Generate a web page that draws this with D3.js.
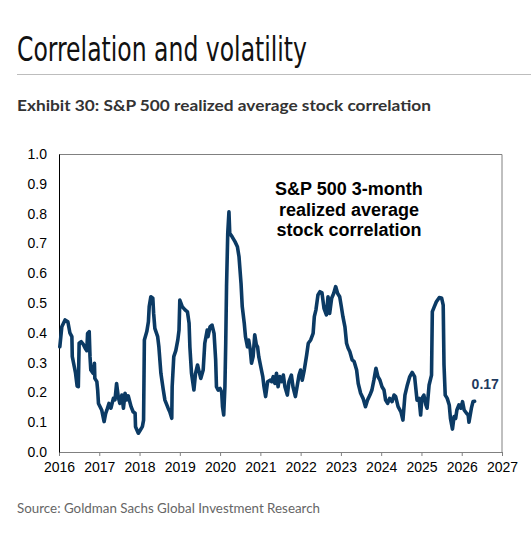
<!DOCTYPE html>
<html>
<head>
<meta charset="utf-8">
<script src="https://cdn.jsdelivr.net/npm/d3@7"></script>
<style>
  body { margin: 0; background: #fff; }
  svg { display: block; }
</style>
</head>
<body>
<div id="chart"></div>
<script>
// decimal year of each observation
const years = [
  2016.02, 2016.07, 2016.15, 2016.22, 2016.27, 2016.32, 2016.33, 2016.38, 2016.41, 2016.45,
  2016.48, 2016.50, 2016.55, 2016.60, 2016.65, 2016.69, 2016.71, 2016.75, 2016.77, 2016.79,
  2016.85, 2016.88, 2016.89, 2016.94, 2016.96, 2016.98, 2017.06, 2017.12, 2017.16, 2017.19,
  2017.24, 2017.29, 2017.35, 2017.39, 2017.43, 2017.47, 2017.51, 2017.56, 2017.60, 2017.64,
  2017.68, 2017.72, 2017.79, 2017.84, 2017.89, 2017.90, 2017.97, 2018.02, 2018.07, 2018.10,
  2018.12, 2018.18, 2018.22, 2018.24, 2018.28, 2018.33, 2018.35, 2018.38, 2018.45, 2018.48,
  2018.53, 2018.59, 2018.63, 2018.71, 2018.75, 2018.80, 2018.81, 2018.85, 2018.90, 2018.95,
  2018.98, 2019.00, 2019.06, 2019.13, 2019.19, 2019.23, 2019.25, 2019.29, 2019.35, 2019.39,
  2019.44, 2019.47, 2019.52, 2019.58, 2019.62, 2019.68, 2019.70, 2019.75, 2019.80, 2019.85,
  2019.89, 2019.91, 2019.95, 2020.00, 2020.04, 2020.06, 2020.09, 2020.12, 2020.14, 2020.16,
  2020.19, 2020.22, 2020.24, 2020.30, 2020.37, 2020.43, 2020.47, 2020.52, 2020.55, 2020.60,
  2020.63, 2020.68, 2020.71, 2020.75, 2020.78, 2020.82, 2020.86, 2020.90, 2020.93, 2020.96,
  2021.01, 2021.06, 2021.09, 2021.13, 2021.18, 2021.24, 2021.28, 2021.32, 2021.36, 2021.40,
  2021.44, 2021.48, 2021.53, 2021.57, 2021.61, 2021.67, 2021.71, 2021.77, 2021.81, 2021.87,
  2021.96, 2022.00, 2022.04, 2022.09, 2022.15, 2022.19, 2022.25, 2022.31, 2022.34, 2022.38,
  2022.43, 2022.48, 2022.53, 2022.58, 2022.64, 2022.68, 2022.72, 2022.77, 2022.82, 2022.87,
  2022.92, 2022.97, 2023.01, 2023.05, 2023.10, 2023.14, 2023.18, 2023.22, 2023.28, 2023.33,
  2023.39, 2023.43, 2023.49, 2023.55, 2023.61, 2023.66, 2023.72, 2023.77, 2023.82, 2023.87,
  2023.92, 2023.97, 2024.02, 2024.07, 2024.11, 2024.16, 2024.21, 2024.27, 2024.32, 2024.36,
  2024.42, 2024.49, 2024.54, 2024.59, 2024.65, 2024.71, 2024.77, 2024.83, 2024.89, 2024.94,
  2024.98, 2025.01, 2025.06, 2025.11, 2025.14, 2025.19, 2025.25, 2025.27, 2025.32, 2025.37,
  2025.44, 2025.50, 2025.54, 2025.56, 2025.59, 2025.64, 2025.69, 2025.72, 2025.77, 2025.81,
  2025.85, 2025.88, 2025.93, 2025.98, 2026.02, 2026.06, 2026.12, 2026.16, 2026.18, 2026.24,
  2026.28, 2026.32
];

// 3-month realized average stock correlation
const corr = [
  0.353, 0.420, 0.443, 0.437, 0.400, 0.387, 0.320, 0.286, 0.265, 0.221,
  0.219, 0.365, 0.370, 0.362, 0.348, 0.340, 0.398, 0.404, 0.320, 0.275,
  0.264, 0.298, 0.247, 0.236, 0.208, 0.163, 0.141, 0.102, 0.130, 0.141,
  0.163, 0.147, 0.180, 0.175, 0.230, 0.186, 0.163, 0.191, 0.147, 0.197,
  0.175, 0.188, 0.152, 0.135, 0.130, 0.085, 0.063, 0.074, 0.085, 0.107,
  0.376, 0.404, 0.437, 0.488, 0.521, 0.516, 0.465, 0.415, 0.387, 0.353,
  0.264, 0.208, 0.174, 0.147, 0.135, 0.113, 0.219, 0.320, 0.340, 0.376,
  0.409, 0.510, 0.488, 0.477, 0.470, 0.432, 0.353, 0.264, 0.208, 0.264,
  0.292, 0.275, 0.247, 0.275, 0.365, 0.409, 0.387, 0.420, 0.426, 0.398,
  0.309, 0.219, 0.208, 0.213, 0.200, 0.152, 0.124, 0.219, 0.365, 0.555,
  0.734, 0.806, 0.734, 0.722, 0.706, 0.689, 0.655, 0.566, 0.488, 0.432,
  0.387, 0.353, 0.376, 0.342, 0.298, 0.320, 0.393, 0.360, 0.353, 0.320,
  0.286, 0.253, 0.219, 0.186, 0.236, 0.241, 0.236, 0.253, 0.230, 0.264,
  0.219, 0.253, 0.236, 0.258, 0.219, 0.191, 0.236, 0.258, 0.219, 0.186,
  0.258, 0.275, 0.241, 0.275, 0.326, 0.365, 0.376, 0.398, 0.454, 0.477,
  0.527, 0.538, 0.534, 0.482, 0.460, 0.521, 0.465, 0.516, 0.532, 0.555,
  0.532, 0.521, 0.488, 0.454, 0.420, 0.365, 0.348, 0.337, 0.309, 0.303,
  0.275, 0.230, 0.197, 0.180, 0.152, 0.174, 0.191, 0.208, 0.242, 0.281,
  0.253, 0.241, 0.219, 0.208, 0.174, 0.163, 0.180, 0.169, 0.191, 0.186,
  0.152, 0.135, 0.107, 0.191, 0.225, 0.253, 0.267, 0.253, 0.174, 0.180,
  0.124, 0.180, 0.191, 0.158, 0.147, 0.225, 0.258, 0.471, 0.488, 0.504,
  0.518, 0.517, 0.493, 0.292, 0.191, 0.180, 0.158, 0.113, 0.077, 0.119,
  0.113, 0.141, 0.158, 0.147, 0.169, 0.141, 0.130, 0.124, 0.100, 0.147,
  0.169, 0.170
];

const xTicks = d3.range(2016, 2028);
const yTicks = d3.range(0, 11).map(d => d / 10);

const pageTitle = "Correlation and volatility";
const exhibitTitle = "Exhibit 30: S&P 500 realized average stock correlation";
const annotation = ["S&P 500 3-month", "realized average", "stock correlation"];
const lastLabel = "0.17";
const source = "Source: Goldman Sachs Global Investment Research";

const width = 531;
const height = 535;
const margin = {top: 154, right: 29, bottom: 83, left: 59};
const innerWidth = width - margin.left - margin.right;
const innerHeight = height - margin.top - margin.bottom;
const navy = "#0b3a64";
const axisFont = "'Liberation Sans', Arial, sans-serif";

const svg = d3.select("#chart")
  .append("svg")
  .attr("width", width)
  .attr("height", height);

// header
svg.append("text")
  .attr("x", 17)
  .attr("y", 61)
  .attr("font-family", "'Liberation Sans Narrow', 'DejaVu Sans Condensed', sans-serif")
  .attr("font-size", 33)
  .attr("fill", "#111")
  .attr("textLength", 290)
  .attr("lengthAdjust", "spacingAndGlyphs")
  .text(pageTitle);

svg.append("line")
  .attr("x1", 17).attr("x2", width)
  .attr("y1", 74.5).attr("y2", 74.5)
  .attr("stroke", "#bdbdbd");

svg.append("text")
  .attr("x", 17)
  .attr("y", 111)
  .attr("font-family", "Lato, 'Noto Sans', sans-serif")
  .attr("font-weight", "bold")
  .attr("font-size", 16)
  .attr("fill", "#333")
  .attr("textLength", 414)
  .attr("lengthAdjust", "spacingAndGlyphs")
  .text(exhibitTitle);

const g = svg.append("g")
  .attr("transform", `translate(${margin.left}, ${margin.top})`);

const xScale = d3.scaleLinear()
  .domain([2016, 2027])
  .range([0, innerWidth]);

const yScale = d3.scaleLinear()
  .domain([0, 1])
  .range([innerHeight, 0]);

// frame: top and right
g.append("path")
  .attr("d", `M0,0.5H${innerWidth}V${innerHeight}`)
  .attr("fill", "none")
  .attr("stroke", "#808080");

// x axis
const xAxis = g.append("g")
  .attr("transform", `translate(0, ${innerHeight})`)
  .call(d3.axisBottom(xScale).tickValues(xTicks).tickFormat(d3.format("d")).tickSize(4).tickPadding(6).tickSizeOuter(0))
  .attr("font-family", axisFont)
  .attr("font-size", 14);
xAxis.select(".domain").attr("stroke", "#808080");
xAxis.selectAll(".tick line").attr("stroke", "#808080");
xAxis.selectAll("text").attr("fill", "#000");

// y axis
const yAxis = g.append("g")
  .call(d3.axisLeft(yScale).tickValues(yTicks).tickFormat(d3.format(".1f")).tickSize(0).tickPadding(12))
  .attr("font-family", axisFont)
  .attr("font-size", 14);
yAxis.select(".domain").attr("stroke", "#000");
yAxis.selectAll("text").attr("fill", "#000");

// series
const series = years.map((y, i) => ({year: y, value: corr[i]}));

const line = d3.line()
  .x(d => xScale(d.year))
  .y(d => yScale(d.value));

g.append("path")
  .datum(series)
  .attr("fill", "none")
  .attr("stroke", navy)
  .attr("stroke-width", 3.6)
  .attr("stroke-linejoin", "round")
  .attr("stroke-linecap", "round")
  .attr("d", line);

// annotation
const annX = xScale(2023.2);
g.append("text")
  .attr("y", 41)
  .attr("text-anchor", "middle")
  .attr("font-family", axisFont)
  .attr("font-weight", "bold")
  .attr("font-size", 18)
  .attr("fill", "#000")
  .selectAll("tspan")
  .data(annotation)
  .join("tspan")
  .attr("x", annX)
  .attr("dy", (d, i) => i === 0 ? 0 : 20.5)
  .text(d => d);

const last = series[series.length - 1];
g.append("text")
  .attr("x", xScale(last.year) - 3)
  .attr("y", yScale(last.value) - 12)
  .attr("font-family", axisFont)
  .attr("font-weight", "bold")
  .attr("font-size", 14)
  .attr("fill", "#1f3a5f")
  .text(lastLabel);

// source
svg.append("text")
  .attr("x", 17)
  .attr("y", 513)
  .attr("font-family", "Lato, 'Noto Sans', sans-serif")
  .attr("font-size", 14)
  .attr("fill", "#666")
  .attr("textLength", 303)
  .attr("lengthAdjust", "spacingAndGlyphs")
  .text(source);
</script>
</body>
</html>
